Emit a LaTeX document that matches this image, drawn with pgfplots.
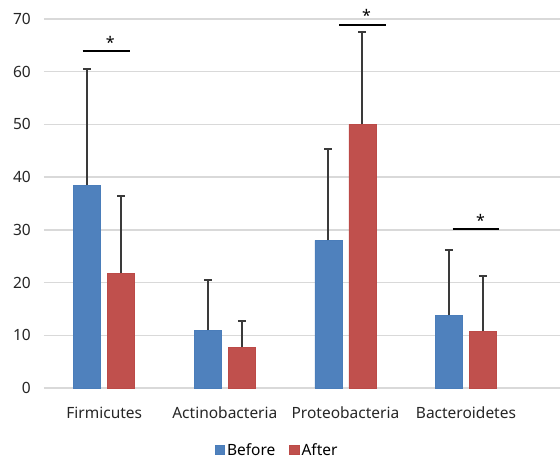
\documentclass[border=0pt]{standalone}
\usepackage{fontspec}
\setmainfont{Noto Sans}
\usepackage{pgfplots}
\pgfplotsset{compat=1.18}
\definecolor{cBlue}{HTML}{4F81BD}
\definecolor{cBlueE}{HTML}{4A7DBA}
\definecolor{cRed}{HTML}{C0504D}
\definecolor{cRedE}{HTML}{BC4A47}
\definecolor{cGrid}{HTML}{D9D9D9}
\definecolor{cErr}{HTML}{3A3A3A}
\pgfplotstableread{
x before errb after erra
0 38.5 22.0 21.8 14.6
1 11.0 9.4 7.7 5.0
2 28.0 17.4 50.0 17.5
3 13.8 12.4 10.8 10.4
}\datatable
\begin{document}
\begin{tikzpicture}
\begin{axis}[
  scale only axis, width=516bp, height=369bp,
  xmin=-0.5, xmax=3.78, ymin=0, ymax=70,
  ytick={0,10,...,70},
  xtick={0,1,2,3},
  xticklabels={Firmicutes,Actinobacteria,Proteobacteria,Bacteroidetes},
  axis lines*=left, axis line style={draw=none},
  major tick length=0pt,
  ymajorgrids, grid style={cGrid, line width=1.3bp},
  tick label style={font=\fontsize{15.5bp}{18bp}\selectfont, text=black!85},
  yticklabel style={inner sep=0pt, xshift=-13bp},
  xticklabel style={inner sep=0pt, yshift=-19bp},
  /pgf/number format/assume math mode=true,
  clip=false,
  ybar, bar width=27bp,
  legend style={at={(0.452,-0.168)}, anchor=center, draw=none, fill=none,
    legend columns=2, font=\fontsize{15.5bp}{18bp}\selectfont,
    inner sep=0pt, outer sep=0pt,
    /tikz/every even column/.append style={column sep=12bp}},
  legend image code/.code={\fill[#1] (-3bp,-4.5bp) rectangle (6.5bp,5bp);},
  every error bar/.append style={line width=2bp, draw=cErr},
]
\addplot+[bar shift=-17bp, fill=cBlue, draw=cBlueE, line width=0.6bp,
  error bars/.cd, y dir=plus, y explicit,
  error bar style={draw=cErr, line width=2bp},
  error mark options={rotate=90, mark size=4bp, line width=2bp, draw=cErr}]
  table[x=x, y=before, y error=errb] {\datatable};
\addlegendentry{Before}
\addplot+[bar shift=17bp, fill=cRed, draw=cRedE, line width=0.6bp,
  error bars/.cd, y dir=plus, y explicit,
  error bar style={draw=cErr, line width=2bp},
  error mark options={rotate=90, mark size=4bp, line width=2bp, draw=cErr}]
  table[x=x, y=after, y error=erra] {\datatable};
\addlegendentry{After}
\draw[black, line width=1.8bp] (axis cs:-0.18,64) -- (axis cs:0.215,64);
\draw[black, line width=1.8bp] (axis cs:1.95,68.9) -- (axis cs:2.34,68.9);
\draw[black, line width=1.8bp] (axis cs:2.89,30.1) -- (axis cs:3.27,30.1);
\node[inner sep=0pt, font=\fontsize{16bp}{18bp}\selectfont] at (axis cs:0.05,65.6) {*};
\node[inner sep=0pt, font=\fontsize{16bp}{18bp}\selectfont] at (axis cs:2.175,70.6) {*};
\node[inner sep=0pt, font=\fontsize{16bp}{18bp}\selectfont] at (axis cs:3.12,31.8) {*};
\coordinate (O) at (rel axis cs:0,0);
\end{axis}
\pgfresetboundingbox
\path[use as bounding box] ([shift={(-44bp,-73bp)}]O) rectangle ([shift={(516bp,388bp)}]O);
\end{tikzpicture}
\end{document}
